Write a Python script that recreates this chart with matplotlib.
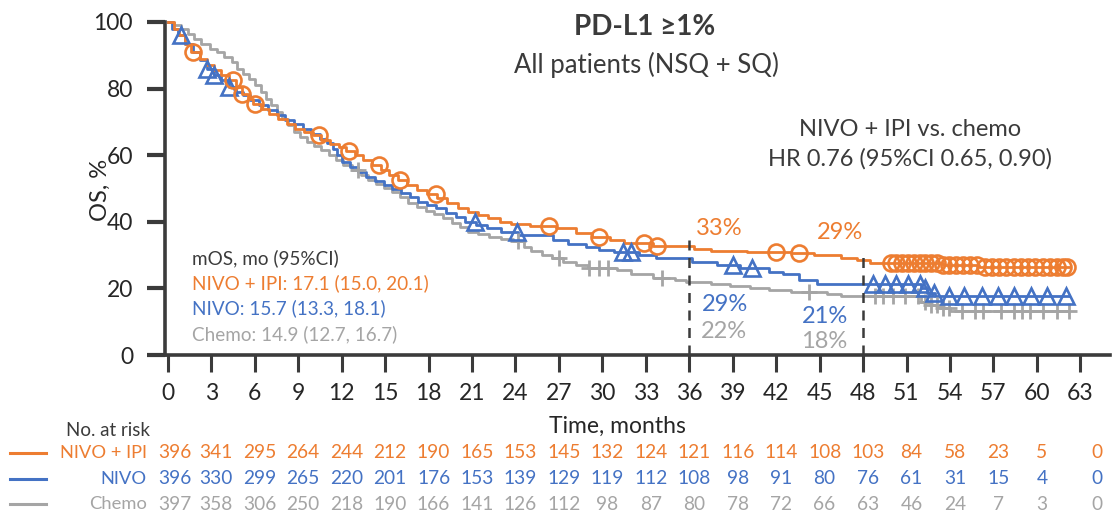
import numpy as np
import matplotlib
matplotlib.use("Agg")
import matplotlib.pyplot as plt

plt.rcParams['font.family'] = ['Lato', 'DejaVu Sans']

# ---- Kaplan-Meier estimates (step times in months, OS %) ----
ipi_t = [0, 0.4, 0.8, 1.2, 1.6, 2.2, 2.7, 3.2, 3.7, 4.2, 4.7, 5.1, 5.5, 5.9, 6.4, 7.0,
         7.6, 8.2, 8.8, 9.4, 10.0, 10.6, 11.2, 11.8, 12.3, 12.9, 13.5, 14.1, 14.7, 15.3,
         15.9, 16.5, 17.2, 17.9, 18.6, 19.3, 20.0, 20.7, 21.4, 22.1, 22.9, 23.7, 25.0,
         26.8, 28.2, 29.3, 30.5, 31.5, 33.5, 36.3, 37.5, 40.0, 43.0, 44.6, 46.5, 47.6,
         48.5, 53.5, 56.0, 62.2]
ipi_s = [100, 98, 96, 93.5, 91, 89, 87, 85.5, 84, 82.5, 80.5, 78.5, 77, 75.3, 74, 72.5,
         71, 69.5, 68, 67, 66, 64.5, 63.5, 62.5, 61.2, 60, 58.5, 57, 55.5, 54,
         52.5, 51, 49.5, 48.3, 47, 45.5, 44.2, 43, 42, 41, 40, 39.3, 38.8,
         38, 36.5, 35.5, 34.5, 33.5, 32.8, 31.8, 31.2, 31, 30.5, 30, 29, 28.5,
         27.6, 27, 26.5, 26.5]
ipi_cens = [1.7, 4.5, 5.1, 6.0, 10.4, 12.5, 14.6, 16.0, 18.5, 26.3, 29.8, 32.9, 33.8,
            42.0, 43.6, 49.9, 50.3, 50.7, 51.1, 51.5, 51.9, 52.3, 52.7, 53.1, 53.5,
            53.9, 54.4, 54.9, 55.4, 55.9, 56.4, 56.9, 57.4, 57.9, 58.4, 58.9, 59.4,
            59.9, 60.4, 60.9, 61.4, 61.8, 62.1]

nivo_t = [0, 0.3, 0.7, 1.2, 1.7, 2.2, 2.7, 3.2, 3.7, 4.2, 4.7, 5.2, 5.7, 6.3, 6.9, 7.5,
          8.1, 8.7, 9.3, 9.9, 10.5, 11.0, 11.4, 11.7, 12.0, 12.6, 13.1, 13.7, 14.3, 14.9,
          15.5, 16.1, 16.7, 17.3, 17.9, 18.5, 19.2, 19.9, 20.5, 21.3, 22.0, 23.0, 24.2,
          26.6, 27.6, 28.9, 29.8, 30.8, 32.5, 33.7, 36.2, 37.9, 39.5, 41.5, 42.5, 43.6,
          44.8, 52.0, 52.4, 53.0, 62.2]
nivo_s = [100, 98, 96, 93.5, 91, 88.5, 86, 84, 82.5, 80.5, 79, 78, 76.5, 75, 73.5, 72,
          70.5, 69.5, 68, 66.5, 65, 63.8, 62, 60, 58, 56.5, 55, 53.5, 52.3, 51,
          50, 48.5, 47.3, 46, 45, 44, 42.5, 41.3, 40, 39, 38, 37, 36,
          34.5, 33.3, 32.5, 31.5, 30.8, 30, 29.2, 28, 27, 26, 25, 24.3, 22.5,
          21.2, 20, 18.5, 17.7, 17.7]
nivo_cens = [0.9, 2.7, 3.2, 4.2, 21.2, 24.1, 31.4, 32.0, 39.0, 40.3, 48.7, 49.5, 50.3,
             51.1, 51.9, 52.3, 52.9, 53.9, 55.0, 56.2, 57.3, 58.4, 59.6, 60.7, 62.0]

chemo_t = [0, 0.4, 0.9, 1.4, 1.8, 2.3, 2.9, 3.4, 3.9, 4.4, 4.8, 5.2, 5.6, 6.0, 6.4, 6.8,
           7.1, 7.5, 7.9, 8.3, 8.7, 9.1, 9.6, 10.1, 10.6, 11.1, 11.6, 12.1, 12.7, 13.3,
           13.8, 14.4, 14.9, 15.5, 16.0, 16.6, 17.2, 17.8, 18.4, 19.0, 19.6, 20.2, 20.7,
           21.4, 22.2, 23.0, 23.8, 24.6, 25.1, 25.8, 26.5, 27.3, 28.2, 29.0, 31.0, 32.0,
           33.5, 35.0, 35.8, 37.5, 38.8, 40.2, 41.5, 43.0, 45.5, 46.5, 52.0, 52.7, 53.3,
           54.0, 62.2]
chemo_s = [100, 99, 98, 96.5, 95, 93.5, 92, 91, 89.6, 88, 86, 84.5, 83, 81, 79, 77,
           75, 73, 71, 69, 67, 65.5, 64, 62.7, 61.5, 60, 58.5, 57, 55.5, 54,
           52.5, 51.3, 50.2, 48.8, 47.3, 45.7, 44.5, 43.3, 42.2, 41, 39.6, 38.3, 37,
           36.2, 35.5, 34.8, 34.2, 32.5, 31.2, 30, 29, 28, 27, 26.2, 25.5, 24.2,
           23.2, 22.5, 21.8, 21.3, 20.6, 20, 19.5, 18.8, 18.2, 17.6, 16, 15, 14,
           13.2, 13.2]
chemo_cens = [13.1, 24.2, 27.0, 29.1, 29.8, 30.4, 34.1, 44.3, 48.8, 49.4, 50.1, 50.9,
              51.8, 52.3, 52.7, 53.1, 53.5, 53.9, 54.8, 55.7, 56.3, 57.5, 58.4, 59.0,
              59.5, 60.4, 61.4, 62.2]

# ---- numbers at risk ----
risk_months = list(range(0, 64, 3))
risk_ipi = [396, 341, 295, 264, 244, 212, 190, 165, 153, 145, 132, 124, 121, 116, 114,
            108, 103, 84, 58, 23, 5, 0]
risk_nivo = [396, 330, 299, 265, 220, 201, 176, 153, 139, 129, 119, 112, 108, 98, 91,
             80, 76, 61, 31, 15, 4, 0]
risk_chemo = [397, 358, 306, 250, 218, 190, 166, 141, 126, 112, 98, 87, 80, 78, 72,
              66, 63, 46, 24, 7, 3, 0]

arm_names = ["NIVO + IPI", "NIVO", "Chemo"]

# landmark OS rates
landmarks = [36, 48]
os_ipi = [33, 29]
os_nivo = [29, 21]
os_chemo = [22, 18]

ORANGE = "#ED7D31"
BLUE = "#4472C4"
GRAY = "#A5A5A5"
DARK = "#3B3B3B"
TXT = "#262626"

W, H = 1114, 513
fig = plt.figure(figsize=(W / 100, H / 100), dpi=100)


def fx(px):
    return px / W


def fy(py):
    return 1 - py / H


# plot area in pixels
left_px, right_px, top_px, bot_px = 165, 1110, 22, 355
ax = fig.add_axes([fx(left_px), fy(bot_px), fx(right_px - left_px), (bot_px - top_px) / H])
ax.set_xlim(-0.2, 65.05)
ax.set_ylim(0, 100)


def surv_at(times, surv, t):
    idx = np.searchsorted(times, t, side="right") - 1
    return np.asarray(surv)[idx]


arms = [
    (chemo_t, chemo_s, chemo_cens, GRAY, dict(marker="+", ms=12, mew=2.0)),
    (nivo_t, nivo_s, nivo_cens, BLUE, dict(marker="^", ms=11.5, mew=1.9, mfc="none")),
    (ipi_t, ipi_s, ipi_cens, ORANGE, dict(marker="o", ms=11.5, mew=1.9, mfc="none")),
]
for t, s, cens, col, mk in arms:
    ax.step(t, s, where="post", color=col, lw=2.0, clip_on=False, zorder=3)
    cy = surv_at(np.array(t), s, np.array(cens))
    ax.plot(cens, cy, ls="none", color=col, mec=col, clip_on=False, zorder=4, **mk)

# landmark dashed lines
for lm, top in zip(landmarks, [34.5, 30.5]):
    ax.plot([lm, lm], [0, top], color=DARK, lw=1.8, ls=(0, (4, 3)), zorder=5)

# landmark labels
lab_kw = dict(fontsize=17, ha="center", va="center")
ax.text(38.1, 38.1, f"{os_ipi[0]}%", color=ORANGE, **lab_kw)
ax.text(46.4, 36.8, f"{os_ipi[1]}%", color=ORANGE, **lab_kw)
ax.text(38.5, 15.3, f"{os_nivo[0]}%", color=BLUE, **lab_kw)
ax.text(45.4, 11.7, f"{os_nivo[1]}%", color=BLUE, **lab_kw)
ax.text(38.4, 7.2, f"{os_chemo[0]}%", color=GRAY, **lab_kw)
ax.text(45.3, 4.2, f"{os_chemo[1]}%", color=GRAY, **lab_kw)

# axes styling
for side in ["top", "right"]:
    ax.spines[side].set_visible(False)
for side in ["left", "bottom"]:
    ax.spines[side].set_linewidth(2.6)
    ax.spines[side].set_color(DARK)
ax.spines["left"].set_bounds(0, 100)
ax.set_xticks(risk_months)
ax.set_yticks(range(0, 101, 20))
ax.tick_params(axis="x", direction="out", length=12, width=2.2, color=DARK,
               labelsize=16.5, labelcolor=TXT, pad=8)
ax.tick_params(axis="y", direction="out", length=13, width=3, color=DARK,
               labelsize=16.5, labelcolor=TXT, pad=10)

fig.text(fx(100), fy(190), "OS, %", fontsize=17, color=TXT, rotation=90,
         ha="center", va="center")
fig.text(fx(617), fy(426), "Time, months", fontsize=16.5, color=TXT,
         ha="center", va="center")

# titles
fig.text(fx(645), fy(27), "PD-L1 ≥1%", fontsize=20, fontweight="bold", color=DARK,
         ha="center", va="center")
fig.text(fx(646), fy(65), "All patients (NSQ + SQ)", fontsize=18.5, color=DARK,
         ha="center", va="center")
fig.text(fx(910), fy(129), "NIVO + IPI vs. chemo", fontsize=17, color=DARK,
         ha="center", va="center")
fig.text(fx(910), fy(159), "HR 0.76 (95%CI 0.65, 0.90)", fontsize=17, color=DARK,
         ha="center", va="center")

# median OS block
mos_kw = dict(fontsize=13.6, va="center")
fig.text(fx(192), fy(258), "mOS, mo (95%CI)", color=DARK, **mos_kw)
fig.text(fx(192), fy(283), "NIVO + IPI: 17.1 (15.0, 20.1)", color=ORANGE, **mos_kw)
fig.text(fx(192), fy(308), "NIVO: 15.7 (13.3, 18.1)", color=BLUE, **mos_kw)
fig.text(fx(192), fy(334), "Chemo: 14.9 (12.7, 16.7)", color=GRAY, **mos_kw)

# numbers at risk table
fig.text(fx(66), fy(431), "No. at risk", fontsize=13.5, color=DARK, va="center")
row_y = [453, 479, 504]
row_cols = [ORANGE, BLUE, GRAY]
col_shift = [7] + [5] * (len(risk_months) - 2) + [17]
for name, counts, ypx, col in zip(arm_names, [risk_ipi, risk_nivo, risk_chemo], row_y, row_cols):
    fig.add_artist(plt.Line2D([fx(10), fx(46)], [fy(ypx), fy(ypx)], color=col, lw=2.2))
    fig.text(fx(147), fy(ypx), name, fontsize=13.2, color=col, ha="right", va="center")
    for m, c, sh in zip(risk_months, counts, col_shift):
        xd = ax.transData.transform((m, 0))[0] / W
        fig.text(xd + fx(sh), fy(ypx), str(c), fontsize=13.8, color=col,
                 ha="center", va="center")

fig.savefig("out.png", dpi=100)
